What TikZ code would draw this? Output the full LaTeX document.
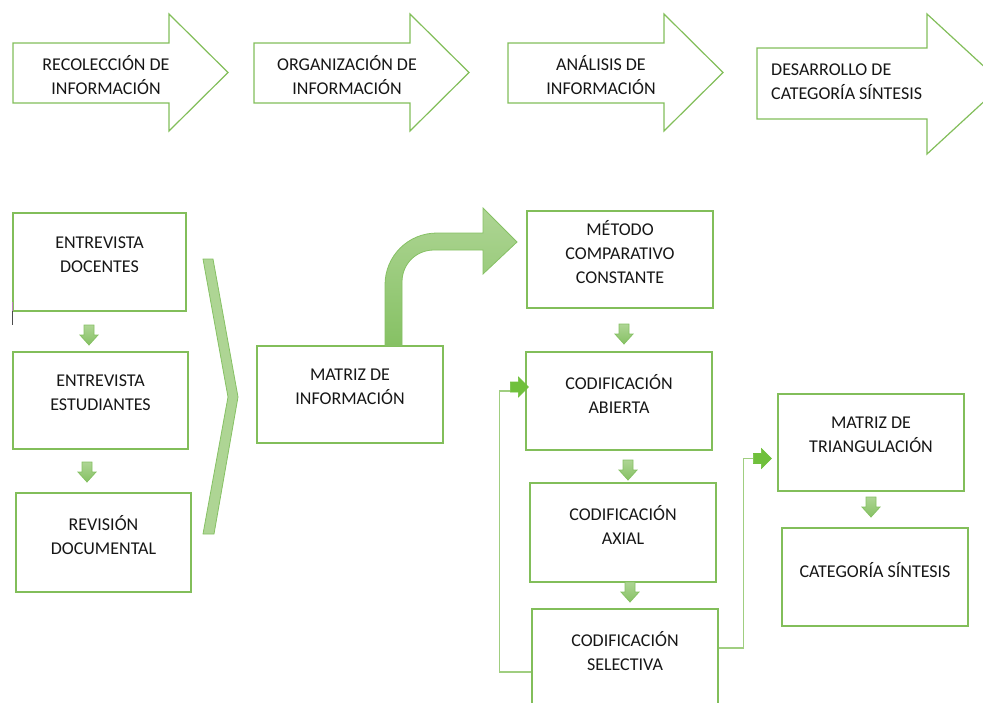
\documentclass[tikz,border=0pt]{standalone}
\usepackage{fontspec}
\setmainfont{Carlito}
\usepackage{tikz}

\definecolor{boxgreen}{RGB}{130,190,90}
\definecolor{fillgreen}{RGB}{174,213,148}
\definecolor{deepgreen}{RGB}{134,193,100}
\definecolor{headgreen}{RGB}{112,192,60}
\definecolor{linegreen}{RGB}{160,206,128}
\definecolor{inkgray}{RGB}{22,22,22}

\tikzset{
	box/.style={draw=boxgreen, line width=1.2pt, align=center, text=inkgray, minimum width=186pt, minimum height=98pt, inner sep=0pt, text depth=15pt},
	phasearrow/.style={draw=boxgreen, line width=1.2pt, fill=white},
	phasetext/.style={text=inkgray, align=center, inner sep=0pt},
	downarrow/.style={draw=deepgreen, line width=0.8pt, top color=fillgreen, bottom color=deepgreen},
	chevron/.style={draw=deepgreen, line width=0.8pt, fill=fillgreen},
	bentarrow/.style={draw=deepgreen, line width=0.8pt, top color=fillgreen, bottom color=deepgreen},
	feedline/.style={draw=linegreen, line width=1.2pt},
	feedhead/.style={draw=headgreen, line width=0.6pt, fill=headgreen},
}

\begin{document}
\begin{tikzpicture}[x=1pt, y=-1pt, font=\fontsize{18}{24}\selectfont]
	\useasboundingbox (0,0) rectangle (983,702);
	% Phases
	\foreach \x/\t [count=\i] in {13/{RECOLECCIÓN DE\\INFORMACIÓN}, 254/{ORGANIZACIÓN DE\\INFORMACIÓN}, 508/{ANÁLISIS DE\\INFORMACIÓN}} {
		\draw[phasearrow] (\x,43) -- ++(156,0) -- ++(0,-29) -- ++(59,58.5) -- ++(-59,58.5) -- ++(0,-28) -- ++(-156,0) -- cycle;
		\node[phasetext] (phase\i) at (\x+93,75) {\t};
	}
	\draw[phasearrow] (757,48) -- (927,48) -- (927,14) -- (1003,84) -- (927,154) -- (927,119) -- (757,119) -- cycle;
	\node[phasetext, align=left, anchor=west] (phase4) at (771,82) {DESARROLLO DE\\CATEGORÍA SÍNTESIS};

	% Boxes
	\node[box, minimum width=173pt] (ed) at (99.5,262) {ENTREVISTA\\DOCENTES};
	\node[box, minimum width=175pt, minimum height=97pt] (es) at (100.5,400.5) {ENTREVISTA\\ESTUDIANTES};
	\node[box, minimum width=175pt, minimum height=99pt] (rd) at (103.5,542.5) {REVISIÓN\\DOCUMENTAL};
	\node[box, minimum height=97pt] (mi) at (350,394.5) {MATRIZ DE\\INFORMACIÓN};
	\node[box, minimum height=97pt] (mcc) at (620,259.5) {MÉTODO\\COMPARATIVO\\CONSTANTE};
	\node[box] (ca) at (619,401) {CODIFICACIÓN\\ABIERTA};
	\node[box, minimum height=99pt] (cax) at (623,532.5) {CODIFICACIÓN\\AXIAL};
	\node[box] (cs) at (625,658) {CODIFICACIÓN\\SELECTIVA};
	\node[box, minimum height=97pt] (mt) at (871,442.5) {MATRIZ DE\\TRIANGULACIÓN};
	\node[box] (csi) at (875,577) {CATEGORÍA SÍNTESIS};

	% small arrows
	\foreach \x/\y in {89/325, 87/462, 624/324, 628/460, 630/582, 871/497} {
		\draw[downarrow] (\x,\y) -- ++(5,0) -- ++(0,10) -- ++(4,0) -- ++(-9,10) -- ++(-9,-10) -- ++(4,0) -- ++(0,-10) -- cycle;
	}

	% chevron and bent arrow
	\draw[chevron] (203,259) -- (213,259) -- (238,397) -- (214,534) -- (203,534) -- (228,397) -- cycle;
	\draw[bentarrow] (385,346) -- (385,285) .. controls (385,256) and (408,233) .. (437,233) -- (483,233) -- (483,208) -- (517,242) -- (483,274) -- (483,250) -- (434,250) .. controls (416,250) and (402,264) .. (402,282) -- (402,346) -- cycle;

	% feedback
	\coordinate (fbtail) at ([xshift=-15pt,yshift=14pt]ca.west);
	\coordinate (mttail) at ([xshift=-24pt,yshift=-16pt]mt.west);
	\draw[feedline] ([yshift=-14pt]cs.west) -- ++(-32,0) |- ([yshift=-4pt]fbtail);
	\draw[feedline] ([yshift=10pt]cs.east) -- ++(25,0) |- (mttail);
	\foreach \c in {fbtail, mttail} {
		\draw[feedhead] (\c) -- ++(0,-5) -- ++(8,0) -- ++(0,-5) -- ++(10,10) -- ++(-10,10) -- ++(0,-5) -- ++(-8,0) -- cycle;
	}
	\draw[violet!50, line width=1pt] (12.5,302) -- (12.5,311);
	\draw[black!70, line width=1pt] (12.5,311) -- (12.5,325);
\end{tikzpicture}
\end{document}
